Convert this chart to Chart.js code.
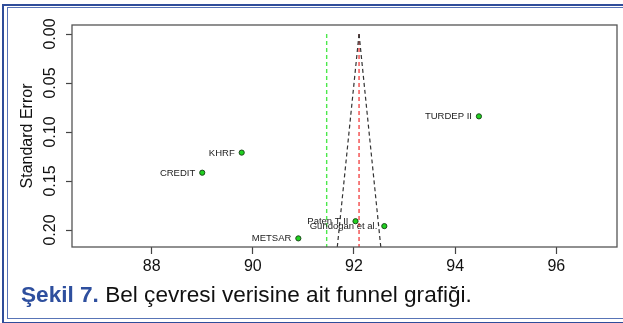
<!DOCTYPE html>
<html>
<head>
<meta charset="utf-8">
<script src="https://cdn.jsdelivr.net/npm/chart.js@4.4.0/dist/chart.umd.min.js"></script>
<style>
  html, body { margin: 0; padding: 0; background: #fff; }
  body { width: 623px; height: 323px; position: relative; overflow: hidden; font-family: "Liberation Sans", Arial, sans-serif; }
  .frame-outer { position: absolute; left: 2px; top: 4px; width: 660px; height: 316px; border: 2px solid #2f4d9a; border-right: none; }
  .frame-inner { position: absolute; left: 7px; top: 7px; width: 660px; height: 310px; border: 1px solid #5874b6; border-right: none; }
  #wrap { position: absolute; left: 0; top: 0; width: 623px; height: 323px; }
  .caption { position: absolute; left: 21px; top: 284px; font-size: 22.6px; line-height: 22px; color: #111; white-space: nowrap; }
  .caption b { color: #2e4f9e; }
</style>
</head>
<body>
<div class="frame-outer"></div>
<div class="frame-inner"></div>
<div id="wrap"><canvas id="funnelChart" width="623" height="323"></canvas></div>
<div class="caption"><b>Şekil 7.</b> Bel çevresi verisine ait funnel grafiği.</div>

<script>
// study estimates and their standard errors
const studies = ['TURDEP II', 'KHRF', 'CREDIT', 'METSAR', 'Paten T II', 'Gundogan et al.'];
const effects = [94.47, 89.78, 89.00, 90.90, 92.03, 92.60];
const stdErrors = [0.084, 0.121, 0.1415, 0.2085, 0.191, 0.196];

// pooled estimate, reference line and funnel limits
const pooled = 92.10;
const refLine = 91.46;
const seMax = 0.2173;
const funnelLeft = [91.67, 92.10];
const funnelRight = [92.53, 92.10];
const funnelSE = [seMax, 0];

const xTicks = [88, 90, 92, 94, 96];
const yTicks = [0, 0.05, 0.10, 0.15, 0.20];

const points = effects.map((x, i) => ({ x: x, y: stdErrors[i] }));

// frame round the plotting region
const boxPlugin = {
  id: 'box',
  afterDraw(chart) {
    const a = chart.chartArea;
    const ctx = chart.ctx;
    ctx.save();
    ctx.strokeStyle = '#555';
    ctx.lineWidth = 1.3;
    ctx.strokeRect(a.left, a.top, a.right - a.left, a.bottom - a.top);
    ctx.restore();
  }
};

// study names written left of each point
const nameLabels = {
  id: 'nameLabels',
  afterDatasetsDraw(chart) {
    const meta = chart.getDatasetMeta(0);
    const ctx = chart.ctx;
    ctx.save();
    ctx.font = '9.5px "Liberation Sans", Arial, sans-serif';
    ctx.fillStyle = '#222';
    ctx.textAlign = 'right';
    ctx.textBaseline = 'middle';
    meta.data.forEach((pt, i) => {
      ctx.fillText(studies[i], pt.x - 7, pt.y + 0.5);
    });
    ctx.restore();
  }
};

const ctx = document.getElementById('funnelChart').getContext('2d');

new Chart(ctx, {
  type: 'scatter',
  data: {
    datasets: [
      {
        label: 'Studies',
        data: points,
        pointRadius: 2.6,
        pointBackgroundColor: '#1fd01f',
        pointBorderColor: '#1c4a1c',
        pointBorderWidth: 1,
        order: 0
      },
      {
        label: 'Funnel left',
        data: funnelLeft.map((x, i) => ({ x: x, y: funnelSE[i] })),
        showLine: true,
        borderColor: '#333',
        borderWidth: 1.2,
        borderDash: [4, 3],
        pointRadius: 0,
        order: 1
      },
      {
        label: 'Funnel right',
        data: funnelRight.map((x, i) => ({ x: x, y: funnelSE[i] })),
        showLine: true,
        borderColor: '#333',
        borderWidth: 1.2,
        borderDash: [4, 3],
        pointRadius: 0,
        order: 1
      },
      {
        label: 'Pooled',
        data: [{ x: pooled, y: 0 }, { x: pooled, y: seMax }],
        showLine: true,
        borderColor: '#f02a2a',
        borderWidth: 1.2,
        borderDash: [4, 3],
        pointRadius: 0,
        order: 2
      },
      {
        label: 'Reference',
        data: [{ x: refLine, y: 0 }, { x: refLine, y: seMax }],
        showLine: true,
        borderColor: '#4be84b',
        borderWidth: 1.4,
        borderDash: [4, 3],
        pointRadius: 0,
        order: 2
      }
    ]
  },
  options: {
    responsive: false,
    animation: false,
    layout: {
      padding: { left: 0, top: 25, right: 6, bottom: 46 }
    },
    plugins: {
      legend: { display: false },
      tooltip: { enabled: false }
    },
    scales: {
      x: {
        type: 'linear',
        min: 86.425,
        max: 97.2,
        afterBuildTicks: scale => { scale.ticks = xTicks.map(v => ({ value: v })); },
        afterFit: scale => { scale.height = 30; },
        border: { display: false },
        grid: { drawOnChartArea: false, tickLength: 7, color: '#444', tickWidth: 1.2 },
        ticks: {
          color: '#111',
          padding: 3,
          maxRotation: 0,
          font: { family: '"Liberation Sans", Arial, sans-serif', size: 16 }
        }
      },
      y: {
        type: 'linear',
        reverse: true,
        min: -0.0092,
        max: seMax,
        afterBuildTicks: scale => { scale.ticks = yTicks.map(v => ({ value: v })); },
        afterFit: scale => { scale.width = 72; },
        border: { display: false },
        grid: { drawOnChartArea: false, tickLength: 6, color: '#444', tickWidth: 1.2 },
        title: {
          display: true,
          text: 'Standard Error',
          color: '#111',
          padding: { top: 18, bottom: 0 },
          font: { family: '"Liberation Sans", Arial, sans-serif', size: 16 }
        },
        ticks: {
          color: '#111',
          minRotation: 90,
          maxRotation: 90,
          crossAlign: 'center',
          padding: 0,
          callback: v => v.toFixed(2),
          font: { family: '"Liberation Sans", Arial, sans-serif', size: 16 }
        }
      }
    }
  },
  plugins: [boxPlugin, nameLabels]
});
</script>
</body>
</html>
